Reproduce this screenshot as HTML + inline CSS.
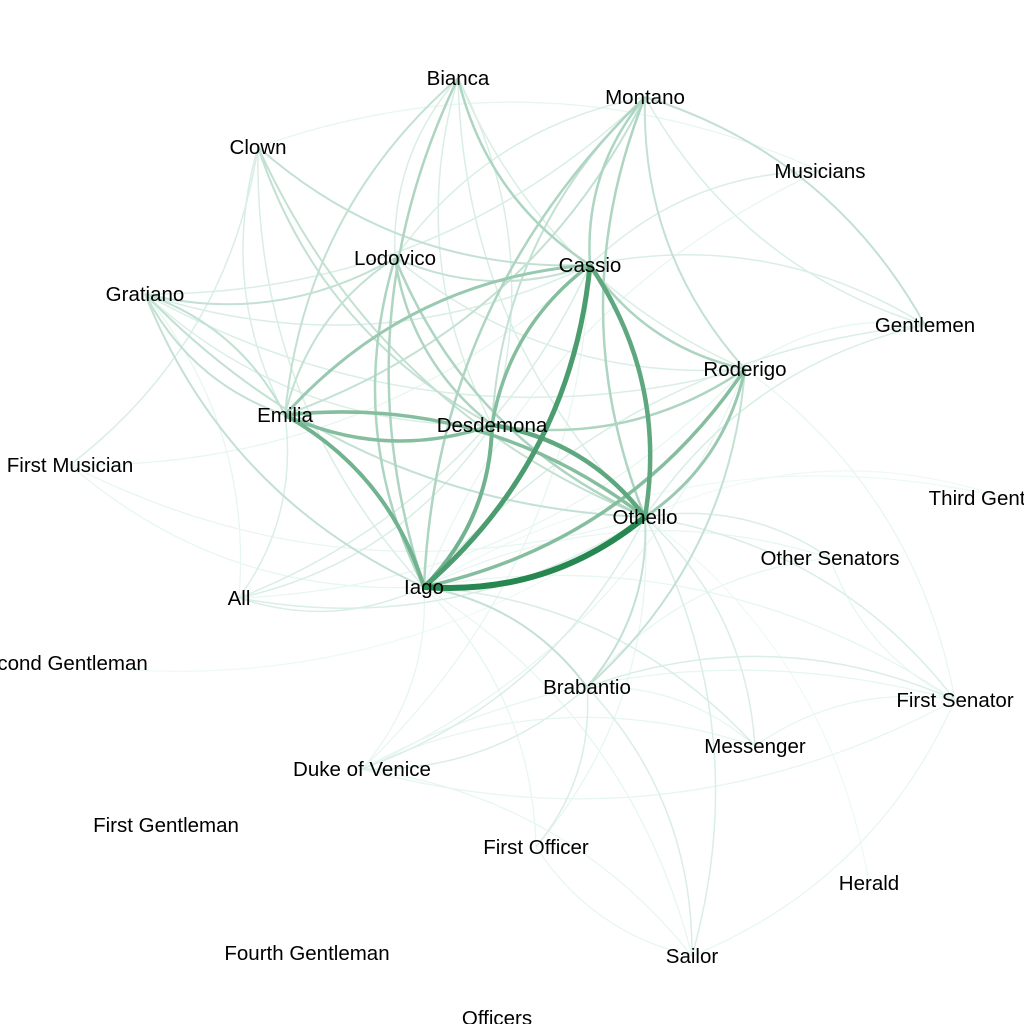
<!DOCTYPE html>
<html><head><meta charset="utf-8"><style>
html,body{margin:0;padding:0;background:#fff;width:1024px;height:1024px;overflow:hidden}
svg text{font-family:"Liberation Sans",Arial,sans-serif;font-size:20.5px;fill:#000}
</style></head><body>
<svg id="net" width="1024" height="1024" viewBox="0 0 1024 1024">
<g id="edges"></g>
<g id="labels"></g>
</svg>
<script>
const nodeNames = ["Bianca","Montano","Clown","Musicians","Lodovico","Cassio","Gratiano","Gentlemen","Roderigo","Emilia","Desdemona","First Musician","Third Gentleman","Othello","Other Senators","Iago","All","Second Gentleman","Brabantio","First Senator","Messenger","Duke of Venice","First Gentleman","First Officer","Herald","Fourth Gentleman","Sailor","Officers"];
const nodeX = [458,645,258,820,395,590,145,925,745,285,492,70,1005,645,830,424,239,60,587,955,755,362,166,536,869,307,692,497];
const nodeY = [78,97,147,171,258,265,294,325,369,415,425,465,498,517,558,587,598,663,687,700,746,769,825,847,883,953,956,1018];
const edgeSource = ["Iago","Iago","Othello","Othello","Iago","Iago","Othello","Iago","Emilia","Cassio","Othello","Cassio","Cassio","Desdemona","Montano","Montano","Montano","Bianca","Bianca","Lodovico","Lodovico","Lodovico","Lodovico","Brabantio","Brabantio","Brabantio","Gratiano","Gratiano","Gratiano","Clown","Clown","Clown","Gentlemen","Gentlemen","Gentlemen","First Senator","First Senator","Other Senators","Duke of Venice","Duke of Venice","Messenger","Sailor","First Officer","Musicians","First Musician","All","All","Bianca","Montano","Lodovico","Emilia","Bianca","Montano","Gratiano","Emilia","Desdemona","Sailor","Messenger",
"Gratiano","Gratiano","Gratiano","Clown","Clown","Bianca","Bianca","Bianca","Montano","Montano","Musicians","Musicians","Gentlemen","Gentlemen","First Musician","First Musician","First Musician","All","All","All","All","All","Duke of Venice","Duke of Venice","Duke of Venice","Duke of Venice","First Senator","First Senator","First Senator","First Senator","Other Senators","Other Senators","Other Senators","Messenger","Messenger","Sailor","Sailor","Sailor","First Officer","First Officer","First Officer","Third Gentleman","Third Gentleman","Second Gentleman","Herald","Lodovico","Gratiano"];
const edgeTarget = ["Othello","Cassio","Cassio","Desdemona","Desdemona","Emilia","Emilia","Roderigo","Desdemona","Desdemona","Roderigo","Emilia","Roderigo","Roderigo","Cassio","Iago","Othello","Cassio","Iago","Othello","Iago","Desdemona","Cassio","Othello","Iago","Roderigo","Iago","Othello","Emilia","Desdemona","Cassio","Othello","Montano","Cassio","Iago","Othello","Brabantio","Othello","Othello","Brabantio","Othello","Othello","Brabantio","Cassio","Clown","Iago","Othello","Emilia","Roderigo","Emilia","Montano","Roderigo","Desdemona","Lodovico","Gratiano","Bianca","Brabantio","Iago",
"Cassio","Desdemona","Roderigo","Emilia","Iago","Lodovico","Othello","Desdemona","Lodovico","Gentlemen","Clown","Iago","Othello","Roderigo","Iago","Othello","Cassio","Emilia","Cassio","Desdemona","Roderigo","Gratiano","Iago","Roderigo","Cassio","First Senator","Iago","Roderigo","Duke of Venice","Messenger","Brabantio","Iago","First Senator","Brabantio","Duke of Venice","Iago","First Senator","Duke of Venice","Othello","Iago","Sailor","Othello","Iago","Othello","Othello","Roderigo","Montano"];
const edgeWeight = [10,8,7,7,6,6,5,5,5,5,4,4,3,3,3,3,3,3,3,3,3,3,2,2,2,2,2,2,2,2,2,2,2,1,1,1,1,1,1,1,1,1,1,1,1,1,1,2,2,2,2,1,2,2,2,1,1,1,
1,1,1,1,1,1,1,1,1,1,0.5,0.5,1,0.5,0.5,0.5,0.5,1,1,1,0.5,0.5,0.5,0.5,0.5,0.5,0.5,0.5,0.5,0.5,0.5,0.5,0.5,0.5,0.5,0.5,0.5,0.5,0.5,0.5,0.5,0.3,0.3,0.3,0.3,1,1];

function idx(n){return nodeNames.indexOf(n);}
function col(w){const t=Math.max(0,(w-0.3)/9.7);const a=[236,249,245],b=[38,135,80];
 const e=Math.pow(t,0.9);
 return "rgb("+a.map((v,i)=>Math.round(v+(b[i]-v)*e)).join(",")+")";}
const eg=document.getElementById('edges');
const order=edgeWeight.map((w,i)=>i).sort((a,b)=>edgeWeight[a]-edgeWeight[b]);
order.forEach(i=>{
 const s=idx(edgeSource[i]),t=idx(edgeTarget[i]);
 const x1=nodeX[s],y1=nodeY[s],x2=nodeX[t],y2=nodeY[t];
 const dx=x2-x1,dy=y2-y1,k=0.2;
 const cx=(x1+x2)/2-dy*k,cy=(y1+y2)/2+dx*k;
 const p=document.createElementNS("http://www.w3.org/2000/svg","path");
 p.setAttribute('d',`M${x1},${y1} Q${cx},${cy} ${x2},${y2}`);
 p.setAttribute('fill','none');
 p.setAttribute('stroke',col(edgeWeight[i]));
 p.setAttribute('stroke-width',1+edgeWeight[i]*0.5);
 
 
 eg.appendChild(p);
});
const lg=document.getElementById('labels');
nodeNames.forEach((n,i)=>{
 const t=document.createElementNS("http://www.w3.org/2000/svg","text");
 t.setAttribute('x',nodeX[i]);t.setAttribute('y',nodeY[i]+7);
 t.setAttribute('text-anchor','middle');
 t.textContent=n;
 
 
 lg.appendChild(t);
});
</script>
</body></html>
